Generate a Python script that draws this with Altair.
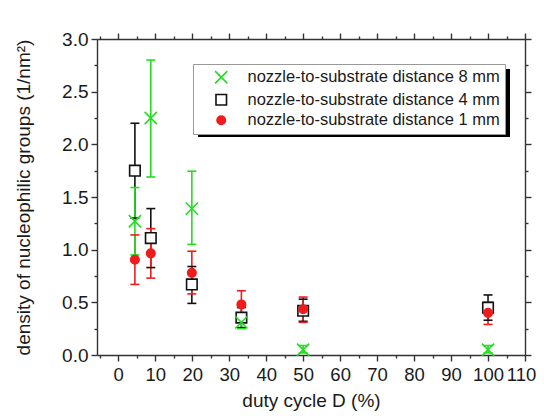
import altair as alt
import pandas as pd

# ---- data ----
duty = [4.5, 8.8, 19.9, 33.3, 50, 100]
series_names = ["nozzle-to-substrate distance 8 mm",
                "nozzle-to-substrate distance 4 mm",
                "nozzle-to-substrate distance 1 mm"]

d8_val = [1.27, 2.25, 1.39, 0.31, 0.05, 0.05]
d8_lo = [0.95, 1.69, 1.05, 0.25, 0.02, 0.02]
d8_hi = [1.59, 2.80, 1.745, 0.38, 0.09, 0.09]

d4_val = [1.75, 1.11, 0.67, 0.355, 0.42, 0.45]
d4_lo = [1.30, 0.83, 0.49, 0.26, 0.32, 0.33]
d4_hi = [2.20, 1.39, 0.84, 0.45, 0.53, 0.57]

d1_val = [0.905, 0.965, 0.78, 0.48, 0.435, 0.40]
d1_lo = [0.67, 0.73, 0.58, 0.36, 0.31, 0.29]
d1_hi = [1.14, 1.20, 0.985, 0.61, 0.55, 0.50]

x_ticks = list(range(-5, 111, 5))
y_ticks = [i * 0.25 for i in range(13)]

rows = []
for name, v, lo, hi in [(series_names[1], d4_val, d4_lo, d4_hi),
                        (series_names[2], d1_val, d1_lo, d1_hi),
                        (series_names[0], d8_val, d8_lo, d8_hi)]:
    for xi, vi, l, h in zip(duty, v, lo, hi):
        rows.append({"duty": xi, "val": vi, "lo": l, "hi": h, "series": name})
df = pd.DataFrame(rows)

GREEN = "#22dd22"
BLACK = "#111111"
RED = "#ee1c1c"
FONT = "Liberation Sans"

xscale = alt.Scale(domain=[-5.75, 110], nice=False, zero=False)
yscale = alt.Scale(domain=[0, 3], nice=False, zero=False)

stroke_scale = alt.Scale(domain=series_names, range=[GREEN, BLACK, RED])
fill_scale = alt.Scale(domain=series_names, range=["white", "white", RED])
shape_scale = alt.Scale(domain=series_names,
                        range=["M-1,-1L1,1M-1,1L1,-1", "square", "circle"])
size_scale = alt.Scale(domain=series_names, range=[150, 72, 40])

x_major = "datum.value % 10 === 0"
y_major = "round(datum.value * 100) % 50 === 0"

legend = alt.Legend(title=None, orient="none", legendX=96, legendY=25)
stroke_enc = alt.Stroke("series:N", scale=stroke_scale, legend=legend)

base = alt.Chart(df)

# error bar stems, with top/right mirror axes
rules = base.mark_rule(strokeWidth=1.6).encode(
    x=alt.X("duty:Q", scale=xscale,
            axis=alt.Axis(orient="top", values=x_ticks, labels=False, title=None,
                          tickSize={"condition": {"test": x_major, "value": 6}, "value": 3})),
    y=alt.Y("lo:Q", scale=yscale,
            axis=alt.Axis(orient="right", values=y_ticks, labels=False, title=None,
                          tickSize={"condition": {"test": y_major, "value": 6}, "value": 3})),
    y2="hi:Q",
    stroke=stroke_enc,
)

caps_lo = base.mark_rule(strokeWidth=1.6, xOffset=-4.5, x2Offset=4.5).encode(
    x=alt.X("duty:Q", scale=xscale, axis=None),
    x2="duty:Q",
    y=alt.Y("lo:Q", scale=yscale, axis=None),
    stroke=stroke_enc,
)
caps_hi = base.mark_rule(strokeWidth=1.6, xOffset=-4.5, x2Offset=4.5).encode(
    x=alt.X("duty:Q", scale=xscale, axis=None),
    x2="duty:Q",
    y=alt.Y("hi:Q", scale=yscale, axis=None),
    stroke=stroke_enc,
)

points = base.mark_point(strokeWidth=1.6, opacity=1).encode(
    x=alt.X("duty:Q", scale=xscale, title="duty cycle D (%)",
            axis=alt.Axis(orient="bottom", values=x_ticks, format="d", labelFlush=False,
                          labelExpr="datum.value % 10 === 0 ? datum.label : ''",
                          labelOffset={"condition": {"test": "datum.value === 110", "value": -4},
                                       "value": 0},
                          tickSize={"condition": {"test": x_major, "value": 6}, "value": 3})),
    y=alt.Y("val:Q", scale=yscale, title="density of nucleophilic groups (1/nm²)",
            axis=alt.Axis(orient="left", values=y_ticks, format=".1f", labelFlush=False,
                          labelExpr="round(datum.value * 100) % 50 === 0 ? datum.label : ''",
                          tickSize={"condition": {"test": y_major, "value": 6}, "value": 3})),
    stroke=stroke_enc,
    fill=alt.Fill("series:N", scale=fill_scale, legend=legend),
    shape=alt.Shape("series:N", scale=shape_scale, legend=legend),
    size=alt.Size("series:N", scale=size_scale, legend=legend),
)

shadow = alt.Chart(pd.DataFrame({"a": [0]})).mark_rect(color="black").encode(
    x=alt.value(101), x2=alt.value(413), y=alt.value(30), y2=alt.value(98)
)

chart = alt.layer(shadow, rules, caps_lo, caps_hi, points).resolve_axis(
    x="independent", y="independent"
).properties(
    width=428, height=316,
    autosize=alt.AutoSizeParams(type="none"),
    padding={"left": 89, "top": 31, "right": 11, "bottom": 60},
    background="white",
).configure_view(stroke=None).configure_axis(
    domainColor="#333333", domainWidth=1.4, tickColor="#333333", tickWidth=1.4,
    labelFont=FONT, labelFontSize=19, labelColor="#1a1a1a", labelPadding=3,
    titleFont=FONT, titleFontSize=19, titleFontWeight="normal", titleColor="#1a1a1a",
    grid=False,
).configure_axisBottom(titlePadding=8, labelPadding=4, labelFontSize=18.5).configure_axisLeft(
    titlePadding=28
).configure_legend(
    fillColor="white", strokeColor="#999999", padding=5, symbolOffset=15,
    labelFont=FONT, labelFontSize=16.5, labelColor="#1a1a1a", labelOffset=18,
    rowPadding=3.5, symbolStrokeWidth=1.6, cornerRadius=0, labelLimit=400,
)

chart.save("out.html", embed_options={"renderer": "svg", "actions": False})
